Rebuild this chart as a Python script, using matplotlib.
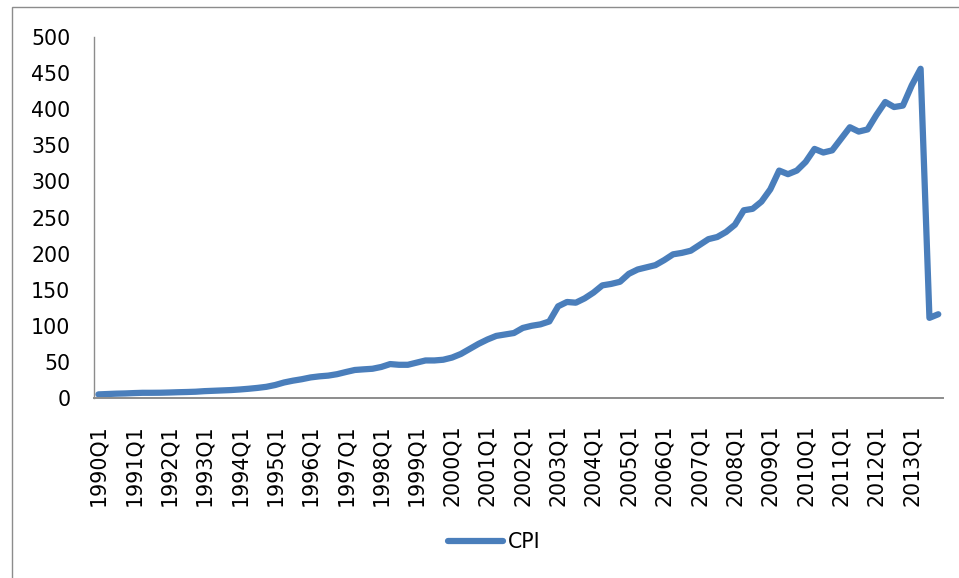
import matplotlib
matplotlib.use("Agg")
import matplotlib.pyplot as plt
from matplotlib.patches import Rectangle

# ---- data ----
years = list(range(1990, 2014))
quarters = [f"{y}Q{q}" for y in years for q in (1, 2, 3, 4)]
cpi = [
    5, 5.5, 6, 6.3,          # 1990
    6.8, 7.2, 7.2, 7.3,      # 1991
    7.6, 8, 8.3, 8.7,        # 1992
    9.5, 10, 10.5, 11,       # 1993
    11.8, 12.8, 14, 15.5,    # 1994
    18, 21.5, 24, 26,        # 1995
    28.5, 30, 31, 33,        # 1996
    36, 38.8, 39.7, 40.5,    # 1997
    43, 47, 46, 46,          # 1998
    49, 52, 52, 53,          # 1999
    56, 61, 68, 75,          # 2000
    81, 86, 88, 90,          # 2001
    97, 100, 102, 106,       # 2002
    127, 133, 132, 138,      # 2003
    146, 156, 158, 161,      # 2004
    172, 178, 181, 184,      # 2005
    191, 199, 201, 204,      # 2006
    212, 220, 223, 230,      # 2007
    240, 260, 262, 272,      # 2008
    289, 315, 310, 315,      # 2009
    327, 345, 340, 343,      # 2010
    359, 375, 369, 372,      # 2011
    392, 410, 403, 405,      # 2012
    433, 456, 111, 116,      # 2013
]
series_name = "CPI"
y_ticks = [0, 50, 100, 150, 200, 250, 300, 350, 400, 450, 500]

# ---- figure ----
W, H = 959, 578
fig = plt.figure(figsize=(W / 100, H / 100), dpi=100)
fig.patch.set_facecolor("white")

# outer chart border
fig.patches.append(Rectangle((11.5 / W, -0.01), 1.02, 1 - 7 / H + 0.01,
                             transform=fig.transFigure, fill=False,
                             edgecolor="#8c8c8c", linewidth=1.0))

left, right = 94 / W, 942.7 / W
bottom, top = 1 - 398 / H, 1 - 37 / H
ax = fig.add_axes([left, bottom, right - left, top - bottom])

x = list(range(len(cpi)))
line, = ax.plot(x, cpi, color="#4a7ebb", linewidth=4.5,
                solid_joinstyle="round", solid_capstyle="round",
                label=series_name)

ax.set_xlim(-0.5, len(cpi) - 0.5)
ax.set_ylim(0, 500)

ax.set_yticks(y_ticks)
ax.set_yticklabels([str(v) for v in y_ticks], fontsize=14.8)

tick_pos = [i for i, q in enumerate(quarters) if q.endswith("Q1")]
ax.set_xticks(tick_pos)
ax.set_xticklabels([quarters[i] for i in tick_pos], rotation=90,
                   fontsize=14.8)

ax.tick_params(axis="both", length=0)
ax.tick_params(axis="x", pad=19)
ax.tick_params(axis="y", pad=17)

for s in ("top", "right"):
    ax.spines[s].set_visible(False)
ax.spines["left"].set_color("#8c8c8c")
ax.spines["left"].set_linewidth(1.0)
ax.spines["bottom"].set_color("#8c8c8c")
ax.spines["bottom"].set_linewidth(1.4)

fig.legend(handles=[line], labels=[series_name], loc="center",
           bbox_to_anchor=(494 / W, 1 - 542 / H), frameon=False,
           fontsize=14.8, handlelength=2.7, handletextpad=0.2)

fig.savefig("out.png", dpi=100)
